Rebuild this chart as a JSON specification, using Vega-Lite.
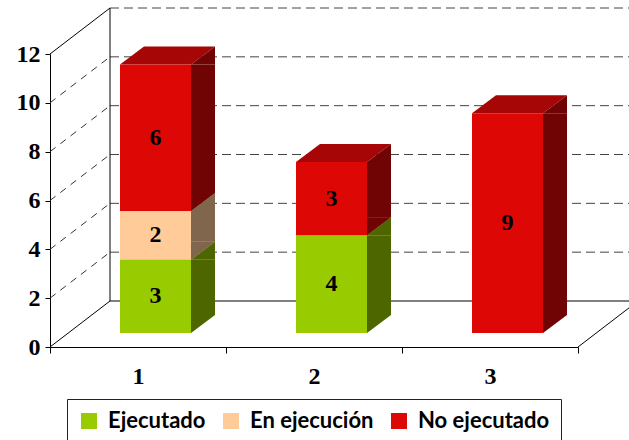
{
  "$schema": "https://vega.github.io/schema/vega-lite/v6.json",
  "width": 528,
  "height": 293,
  "autosize": {"type": "none"},
  "padding": {"left": 50, "top": 54, "right": 51, "bottom": 93},
  "background": "white",
  "datasets": {
    "grid": [{"v": 0}, {"v": 2}, {"v": 4}, {"v": 6}, {"v": 8}, {"v": 10}, {"v": 12}],
    "bars": [
      {"cat": "1", "estado": "Ejecutado", "value": 3},
      {"cat": "1", "estado": "En ejecución", "value": 2},
      {"cat": "1", "estado": "No ejecutado", "value": 6},
      {"cat": "2", "estado": "Ejecutado", "value": 4},
      {"cat": "2", "estado": "No ejecutado", "value": 3},
      {"cat": "3", "estado": "No ejecutado", "value": 9}
    ]
  },
  "config": {
    "view": {"stroke": null},
    "axisX": {"domainColor": "black", "tickColor": "black", "tickSize": 6, "tickBand": "extent", "labelAngle": 0, "labelFont": "Liberation Serif", "labelFontWeight": "bold", "labelFontSize": 24, "labelColor": "black", "labelPadding": 11, "grid": false},
    "axisY": {"domainColor": "black", "tickColor": "black", "tickSize": 5, "tickCount": 7, "labelFont": "Liberation Serif", "labelFontWeight": "bold", "labelFontSize": 24, "labelColor": "black", "labelPadding": 5, "grid": false}
  },
  "resolve": {"scale": {"color": "independent"}},
  "layer": [
    {
      "data": {"name": "grid"},
      "transform": [{"filter": "datum.v > 0"}],
      "mark": {"type": "rule", "color": "#444444", "strokeDash": [9, 5], "xOffset": -28, "x2Offset": 148, "yOffset": -46},
      "encoding": {
        "x": {"datum": "1", "type": "nominal", "title": null, "scale": {"domain": ["1", "2", "3"], "paddingInner": 0, "paddingOuter": 0}},
        "x2": {"datum": "3"},
        "y": {"field": "v", "type": "quantitative", "title": null, "scale": {"domain": [0, 12], "nice": false}}
      }
    },
    {
      "data": {"name": "grid"},
      "transform": [{"filter": "datum.v == 0"}],
      "mark": {"type": "rule", "color": "black", "xOffset": -28, "x2Offset": 148, "yOffset": -46},
      "encoding": {
        "x": {"datum": "1", "type": "nominal", "title": null},
        "x2": {"datum": "3"},
        "y": {"field": "v", "type": "quantitative", "title": null}
      }
    },
    {
      "data": {"name": "grid"},
      "transform": [{"filter": "datum.v > 0 && datum.v < 12"}],
      "mark": {"type": "rule", "color": "#333333", "strokeDash": [7, 6], "xOffset": -88, "x2Offset": -28, "y2Offset": -46},
      "encoding": {
        "x": {"datum": "1", "type": "nominal", "title": null},
        "x2": {"datum": "1"},
        "y": {"field": "v", "type": "quantitative", "title": null},
        "y2": {"field": "v"}
      }
    },
    {
      "data": {"name": "grid"},
      "transform": [{"filter": "datum.v == 0 || datum.v == 12"}],
      "mark": {"type": "rule", "color": "black", "xOffset": -88, "x2Offset": -28, "y2Offset": -46},
      "encoding": {
        "x": {"datum": "1", "type": "nominal", "title": null},
        "x2": {"datum": "1"},
        "y": {"field": "v", "type": "quantitative", "title": null},
        "y2": {"field": "v"}
      }
    },
    {
      "data": {"name": "grid"},
      "transform": [{"filter": "datum.v == 0"}],
      "mark": {"type": "rule", "color": "black", "xOffset": -28, "yOffset": -46, "y2Offset": -46},
      "encoding": {
        "x": {"datum": "1", "type": "nominal", "title": null},
        "y": {"datum": 0, "type": "quantitative", "title": null},
        "y2": {"datum": 12}
      }
    },
    {
      "data": {"name": "grid"},
      "transform": [{"filter": "datum.v == 0"}],
      "mark": {"type": "rule", "color": "black", "xOffset": 88, "x2Offset": 148, "y2Offset": -46},
      "encoding": {
        "x": {"datum": "3", "type": "nominal", "title": null},
        "x2": {"datum": "3"},
        "y": {"datum": 0, "type": "quantitative", "title": null},
        "y2": {"datum": 0}
      }
    },
    {
      "data": {"name": "bars"},
      "transform": [
        {"stack": "value", "groupby": ["cat"], "sort": [{"field": "estado", "order": "ascending"}], "as": ["v0", "v1"]},
        {"calculate": "(datum.v0 + datum.v1) / 2", "as": "mid"}
      ],
      "resolve": {"scale": {"color": "independent"}},
      "layer": [
        {
          "mark": {"type": "point", "shape": "M-1,0.1895L0.4947,0.1895L1,-0.1895L-0.4947,-0.1895Z", "size": 9025, "filled": true, "opacity": 1, "strokeWidth": 0, "xOffset": 29.5, "yOffset": -23},
          "encoding": {
            "x": {"field": "cat", "type": "nominal", "title": null},
            "y": {"field": "v1", "type": "quantitative", "title": null},
            "color": {"field": "estado", "type": "nominal", "legend": null, "scale": {"domain": ["Ejecutado", "En ejecución", "No ejecutado"], "range": ["#7AA300", "#CCA37A", "#A60606"]}}
          }
        },
        {
          "mark": {"type": "bar", "size": 24, "xOffset": 65, "yOffset": -14, "y2Offset": -32},
          "encoding": {
            "x": {"field": "cat", "type": "nominal", "title": null},
            "y": {"field": "v1", "type": "quantitative", "title": null},
            "y2": {"field": "v0"},
            "color": {"field": "estado", "type": "nominal", "legend": null, "scale": {"domain": ["Ejecutado", "En ejecución", "No ejecutado"], "range": ["#4D6600", "#80664D", "#700404"]}}
          }
        },
        {
          "mark": {"type": "point", "shape": "M-1,0.75L1,0.75L1,-0.75Z", "size": 576, "filled": true, "opacity": 1, "strokeWidth": 0, "xOffset": 65, "yOffset": -23},
          "encoding": {
            "x": {"field": "cat", "type": "nominal", "title": null},
            "y": {"field": "v1", "type": "quantitative", "title": null},
            "color": {"field": "estado", "type": "nominal", "legend": null, "scale": {"domain": ["Ejecutado", "En ejecución", "No ejecutado"], "range": ["#4D6600", "#80664D", "#700404"]}}
          }
        },
        {
          "mark": {"type": "point", "shape": "M-1,0.75L-1,-0.75L1,-0.75Z", "size": 576, "filled": true, "opacity": 1, "strokeWidth": 0, "xOffset": 65, "yOffset": -23},
          "encoding": {
            "x": {"field": "cat", "type": "nominal", "title": null},
            "y": {"field": "v0", "type": "quantitative", "title": null},
            "color": {"field": "estado", "type": "nominal", "legend": null, "scale": {"domain": ["Ejecutado", "En ejecución", "No ejecutado"], "range": ["#4D6600", "#80664D", "#700404"]}}
          }
        },
        {
          "mark": {"type": "bar", "size": 71, "xOffset": 17.5, "yOffset": -14, "y2Offset": -14},
          "encoding": {
            "x": {"field": "cat", "type": "nominal", "title": null},
            "y": {"field": "v1", "type": "quantitative", "title": null},
            "y2": {"field": "v0"},
            "color": {
              "field": "estado", "type": "nominal",
              "scale": {"domain": ["Ejecutado", "En ejecución", "No ejecutado"], "range": ["#99CC00", "#FFCC99", "#DD0806"]},
              "legend": {"orient": "none", "legendX": 17, "legendY": 345, "direction": "horizontal", "title": null, "strokeColor": "#222222", "fillColor": "white", "padding": 11, "symbolType": "square", "symbolSize": 256, "symbolStrokeWidth": 0, "symbolOpacity": 1, "labelFont": "Lato", "labelFontWeight": "bold", "labelFontSize": 22, "labelColor": "black", "labelOffset": 8, "columnPadding": 14}
            }
          }
        },
        {
          "mark": {"type": "text", "font": "Liberation Serif", "fontWeight": "bold", "fontSize": 24, "color": "black", "baseline": "middle", "xOffset": 17.5, "yOffset": -14},
          "encoding": {
            "x": {"field": "cat", "type": "nominal", "title": null},
            "y": {"field": "mid", "type": "quantitative", "title": null},
            "text": {"field": "value", "type": "quantitative"}
          }
        }
      ]
    }
  ]
}
